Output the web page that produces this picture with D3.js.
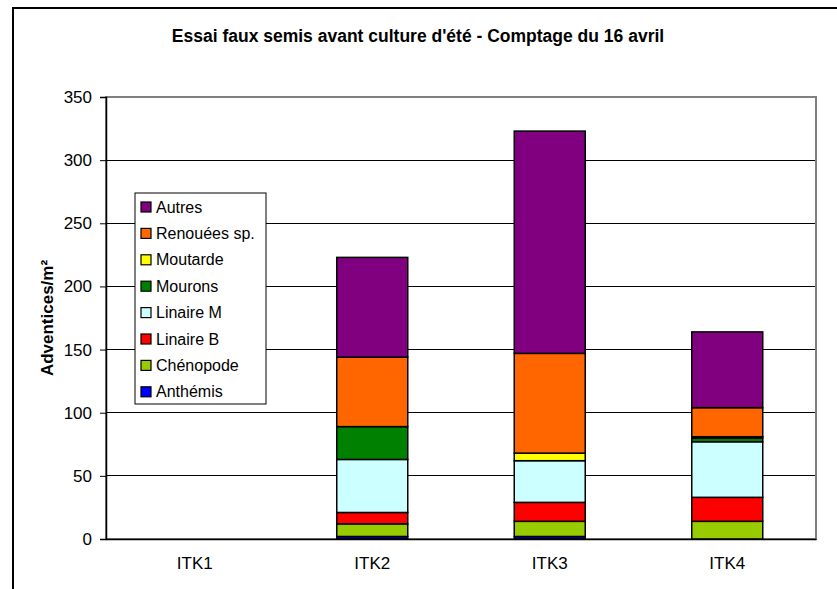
<!DOCTYPE html>
<html>
<head>
<meta charset="utf-8">
<script src="https://cdn.jsdelivr.net/npm/d3@7"></script>
<style>
  body { margin: 0; background: #fff; }
  svg { font-family: "Liberation Sans", Arial, sans-serif; }
</style>
</head>
<body>
<svg id="chart" width="837" height="589"></svg>
<script>
// categories and series (stacked bottom -> top)
const categories = ["ITK1", "ITK2", "ITK3", "ITK4"]
const seriesNames = ["Anthémis", "Chénopode", "Linaire B", "Linaire M", "Mourons", "Moutarde", "Renouées sp.", "Autres"]
const seriesColors = ["#0000FF", "#99CC00", "#FF0000", "#CCFFFF", "#008000", "#FFFF00", "#FF6600", "#800080"]

const anthemis = [0, 2, 2, 0]
const chenopode = [0, 10, 12, 14]
const linaireB = [0, 9, 15, 19]
const linaireM = [0, 42, 33, 44]
const mourons = [0, 26, 0, 3]
const moutarde = [0, 0, 6, 1]
const renouees = [0, 55, 79, 23]
const autres = [0, 79, 176, 60]

const yTicks = [0, 50, 100, 150, 200, 250, 300, 350]

const seriesValues = [anthemis, chenopode, linaireB, linaireM, mourons, moutarde, renouees, autres]

// build table for d3.stack
let table = categories.map((c, i) => {
    let row = { cat: c }
    seriesNames.forEach((s, j) => row[s] = seriesValues[j][i])
    return row
})

const svg = d3.select("#chart")

/* outer frame */
svg.append("rect")
    .attr("x", 13).attr("y", 8)
    .attr("width", 900).attr("height", 700)
    .attr("fill", "none")
    .attr("stroke", "#000")
    .attr("stroke-width", 2)

svg.append("text")
    .text("Essai faux semis avant culture d'été - Comptage du 16 avril")
    .attr("x", 418).attr("y", 42)
    .attr("text-anchor", "middle")
    .style("font-size", "17.5px")
    .style("font-weight", "bold")

const plot = { left: 106, right: 816, top: 97, bottom: 539 }

let x = d3.scaleBand()
    .domain(categories)
    .range([plot.left, plot.right])
    .paddingInner(0.6)
    .paddingOuter(0.3)

let y = d3.scaleLinear()
    .domain([0, 350])
    .range([plot.bottom, plot.top])

/* gridlines */
svg.append("g")
    .selectAll("line")
    .data(yTicks.slice(1))
    .enter()
    .append("line")
    .attr("x1", plot.left).attr("x2", plot.right)
    .attr("y1", d => y(d)).attr("y2", d => y(d))
    .attr("stroke", "#000")
    .attr("stroke-width", 1)
    .attr("shape-rendering", "crispEdges")

/* plot border */
svg.append("rect")
    .attr("x", plot.left).attr("y", plot.top)
    .attr("width", plot.right - plot.left)
    .attr("height", plot.bottom - plot.top)
    .attr("fill", "none")
    .attr("stroke", "#808080")
    .attr("stroke-width", 2)

/* bars */
let stacked = d3.stack().keys(seriesNames)(table)

svg.append("g")
    .selectAll("g")
    .data(stacked)
    .enter()
    .append("g")
    .attr("fill", (d, i) => seriesColors[i])
    .selectAll("rect")
    .data(d => d.filter(p => p[1] - p[0] > 0))
    .enter()
    .append("rect")
    .attr("x", d => x(d.data.cat))
    .attr("width", x.bandwidth())
    .attr("y", d => y(d[1]))
    .attr("height", d => y(d[0]) - y(d[1]))
    .attr("stroke", "#000")
    .attr("stroke-width", 1.5)

/* y axis */
let yAxis = svg.append("g")
    .attr("transform", `translate(${plot.left},0)`)
    .call(d3.axisLeft(y).tickValues(yTicks).tickSize(6).tickPadding(8))
yAxis.select(".domain").attr("stroke", "#000").attr("stroke-width", 1.5)
yAxis.selectAll("text").style("font-size", "17px").style("font-family", "Liberation Sans, Arial, sans-serif")

/* x axis */
let xAxis = svg.append("g")
    .attr("transform", `translate(0,${plot.bottom})`)
    .call(d3.axisBottom(x).tickSize(0).tickPadding(18))
xAxis.select(".domain").attr("stroke", "#000").attr("stroke-width", 1.5)
xAxis.selectAll("text").style("font-size", "17px").style("font-family", "Liberation Sans, Arial, sans-serif")

svg.append("text")
    .text("Adventices/m²")
    .attr("transform", `translate(53,${(plot.top + plot.bottom) / 2}) rotate(-90)`)
    .attr("text-anchor", "middle")
    .style("font-size", "17px")
    .style("font-weight", "bold")

/* legend */
let legendG = svg.append("g")
legendG.append("rect")
    .attr("x", 135).attr("y", 193)
    .attr("width", 131).attr("height", 211)
    .attr("fill", "#fff")
    .attr("stroke", "#000")
    .attr("stroke-width", 1)

let legendItems = seriesNames.map((s, i) => ({ name: s, color: seriesColors[i] })).reverse()

let item = legendG.selectAll("g.item")
    .data(legendItems)
    .enter()
    .append("g")
    .attr("class", "item")
    .attr("transform", (d, i) => `translate(141,${207 + i * 26.4})`)

item.append("rect")
    .attr("x", 0).attr("y", -5)
    .attr("width", 10).attr("height", 10)
    .attr("fill", d => d.color)
    .attr("stroke", "#000")
    .attr("stroke-width", 1.2)

item.append("text")
    .text(d => d.name)
    .attr("x", 15).attr("y", 5.5)
    .style("font-size", "16px")
</script>
</body>
</html>
